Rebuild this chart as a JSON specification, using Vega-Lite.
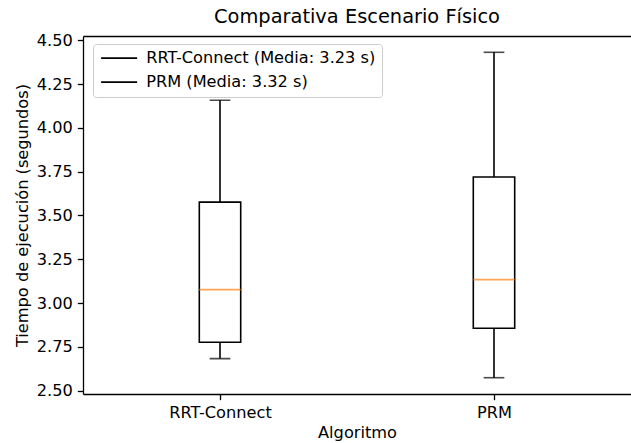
{
  "$schema": "https://vega.github.io/schema/vega-lite/v6.json",
  "width": 548,
  "height": 358,
  "autosize": {"type": "none"},
  "padding": {"left": 83, "top": 36, "right": 0, "bottom": 49},
  "background": "white",
  "config": {
    "font": "DejaVu Sans",
    "view": {"stroke": null},
    "axis": {
      "domainColor": "black",
      "domainWidth": 1.3,
      "tickColor": "black",
      "tickWidth": 1.3,
      "tickSize": 5.7,
      "labelPadding": 5,
      "labelFont": "DejaVu Sans",
      "labelFontSize": 16.2,
      "labelColor": "black",
      "titleFont": "DejaVu Sans",
      "titleFontSize": 16.2,
      "titleFontWeight": "normal",
      "titleColor": "black",
      "grid": false
    }
  },
  "title": {
    "text": "Comparativa Escenario Físico",
    "font": "DejaVu Sans",
    "fontSize": 19.4,
    "fontWeight": "normal",
    "color": "black",
    "anchor": "middle",
    "offset": 5
  },
  "data": {
    "values": [
      {"algoritmo": "RRT-Connect", "minimo": 2.683, "q1": 2.776, "mediana": 3.077, "q3": 3.576, "maximo": 4.157, "leyenda": "RRT-Connect (Media: 3.23 s)"},
      {"algoritmo": "PRM", "minimo": 2.574, "q1": 2.856, "mediana": 3.134, "q3": 3.719, "maximo": 4.431, "leyenda": "PRM (Media: 3.32 s)"}
    ]
  },
  "resolve": {"axis": {"x": "independent"}},
  "layer": [
    {
      "mark": {"type": "rule", "strokeWidth": 1.6},
      "encoding": {
        "x": {
          "field": "algoritmo",
          "type": "nominal",
          "sort": ["RRT-Connect", "PRM"],
          "scale": {"type": "point", "padding": 0.5},
          "axis": {"title": "Algoritmo", "labelAngle": 0, "titlePadding": 4}
        },
        "y": {
          "field": "minimo",
          "type": "quantitative",
          "scale": {"domain": [2.481, 4.524], "nice": false, "zero": false},
          "axis": {
            "title": "Tiempo de ejecución (segundos)",
            "values": [2.5, 2.75, 3.0, 3.25, 3.5, 3.75, 4.0, 4.25, 4.5],
            "format": ".2f",
            "titlePadding": 6
          }
        },
        "y2": {"field": "maximo"},
        "stroke": {
          "field": "leyenda",
          "type": "nominal",
          "sort": ["RRT-Connect (Media: 3.23 s)", "PRM (Media: 3.32 s)"],
          "scale": {"range": ["black", "black"]},
          "legend": {
            "title": null,
            "orient": "none",
            "legendX": 10,
            "legendY": 8,
            "symbolType": "M-1,0H5",
            "symbolSize": 144,
            "symbolStrokeWidth": 1.6,
            "labelOffset": 31,
            "labelFont": "DejaVu Sans",
            "labelFontSize": 16.2,
            "labelColor": "black",
            "labelLimit": 400,
            "rowPadding": 7,
            "padding": 6,
            "strokeColor": "#cccccc",
            "cornerRadius": 3,
            "fillColor": "rgba(255,255,255,0.8)"
          }
        }
      }
    },
    {
      "mark": {"type": "bar", "size": 41.4, "fill": "white", "stroke": "black", "strokeWidth": 1.6},
      "encoding": {
        "x": {
          "field": "algoritmo",
          "type": "nominal",
          "sort": ["RRT-Connect", "PRM"],
          "axis": {"orient": "top", "labels": false, "ticks": false, "title": null}
        },
        "y": {"field": "q1", "type": "quantitative"},
        "y2": {"field": "q3"}
      }
    },
    {
      "mark": {"type": "tick", "size": 41.4, "thickness": 1.8, "color": "#ff7f0e"},
      "encoding": {
        "x": {"field": "algoritmo", "type": "nominal", "sort": ["RRT-Connect", "PRM"], "axis": null},
        "y": {"field": "mediana", "type": "quantitative"}
      }
    },
    {
      "mark": {"type": "tick", "size": 20.7, "thickness": 1.6, "color": "black"},
      "encoding": {
        "x": {"field": "algoritmo", "type": "nominal", "sort": ["RRT-Connect", "PRM"], "axis": null},
        "y": {"field": "minimo", "type": "quantitative"}
      }
    },
    {
      "mark": {"type": "tick", "size": 20.7, "thickness": 1.6, "color": "black"},
      "encoding": {
        "x": {"field": "algoritmo", "type": "nominal", "sort": ["RRT-Connect", "PRM"], "axis": null},
        "y": {"field": "maximo", "type": "quantitative"}
      }
    }
  ]
}
